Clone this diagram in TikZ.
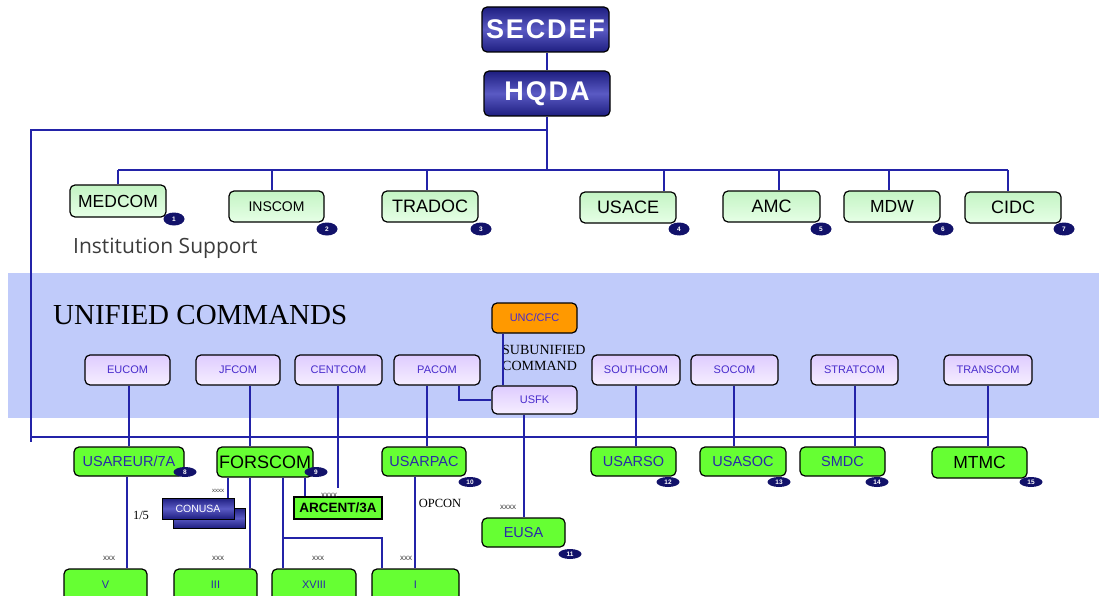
\documentclass[tikz,border=0pt]{standalone}
\usepackage{fontspec}
\setmainfont{Liberation Serif}
\setsansfont{Liberation Sans}
\newfontfamily\isfont{Open Sans}
\usetikzlibrary{shapes.geometric}
\definecolor{lineblue}{RGB}{35,35,168}
\definecolor{bandblue}{RGB}{192,203,250}
\definecolor{navy}{RGB}{18,18,106}
\definecolor{mintA}{RGB}{196,244,196}
\definecolor{mintB}{RGB}{230,255,230}
\definecolor{lavA}{RGB}{222,204,255}
\definecolor{lavB}{RGB}{246,238,255}
\definecolor{ucText}{RGB}{72,44,204}
\definecolor{gText}{RGB}{42,42,168}
\definecolor{brightgreen}{RGB}{102,255,51}
\definecolor{orangebox}{RGB}{255,153,0}
\definecolor{deepblue}{RGB}{30,30,128}
\definecolor{midblue}{RGB}{90,90,196}
\definecolor{grayText}{RGB}{60,60,60}
\newcommand\fsz[1]{\fontsize{#1}{#1}\selectfont}
\begin{document}
\begin{tikzpicture}[x=1pt,y=-1pt,
  box/.style={draw=black, line width=1.2pt, rounded corners=5pt, inner sep=0pt, font=\sffamily},
  lvlone/.style={box, top color=mintA, bottom color=mintB, text=black},
  ucbox/.style={box, top color=lavA, bottom color=lavB, text=ucText, font=\sffamily\fsz{11}},
  grnbox/.style={box, fill=brightgreen, text=gText},
  bluehead/.style={box, top color=deepblue, bottom color=deepblue, middle color=midblue, text=white,
     font=\sffamily\bfseries\fsz{27}\addfontfeature{LetterSpace=7}},
  conusabox/.style={draw=black, line width=1pt, top color=deepblue, bottom color=deepblue, middle color=midblue, text=white, inner sep=0pt, font=\sffamily\fsz{10.5}},
  badge/.style={ellipse, fill=navy, text=white, inner sep=0pt, minimum width=23pt, minimum height=10pt, font=\sffamily\bfseries\fsz{6.5}},
  badgetop/.style={badge, minimum width=21pt, minimum height=13pt},
  conn/.style={draw=lineblue, line width=1.2pt},
  tiny/.style={text=grayText, font=\sffamily\fsz{8}, inner sep=0pt},
  serifnote/.style={text=black, font=\rmfamily\fsz{12.5}, inner sep=0pt}
]
\clip (0,0) rectangle (1099,596);
\fill[white] (0,0) rectangle (1099,596);
% band
\fill[bandblue] (8,273) rectangle (1099,418);

% top
\node[bluehead, minimum width=127pt, minimum height=45pt] (secdef) at (545.5,29.5) {SECDEF};
\node[bluehead, minimum width=126pt, minimum height=45pt] (hqda) at (547,93.5) {HQDA};

% coordinates
\coordinate (jA) at (547,130);
\coordinate (jB) at (547,170);
\coordinate (leftTop) at (31,130);
\coordinate (leftBot) at (31,442);
\coordinate (busL) at (31,437);
\coordinate (busR) at (988,437);
\coordinate (busTwoL) at (118,170);
\coordinate (busTwoR) at (1008,170);

% level 1
\node[lvlone, minimum width=96pt, minimum height=32pt, font=\sffamily\fsz{17.5}] (medcom) at (118,201) {MEDCOM};
\node[lvlone, minimum width=95pt, minimum height=31pt, font=\sffamily\fsz{14}] (inscom) at (276.5,206.5) {INSCOM};
\node[lvlone, minimum width=96pt, minimum height=31pt, font=\sffamily\fsz{18}] (tradoc) at (430,206.5) {TRADOC};
\node[lvlone, minimum width=96pt, minimum height=31pt, font=\sffamily\fsz{18}] (usace) at (628,207.5) {USACE};
\node[lvlone, minimum width=97pt, minimum height=31pt, font=\sffamily\fsz{18}] (amc) at (771.5,206.5) {AMC};
\node[lvlone, minimum width=96pt, minimum height=31pt, font=\sffamily\fsz{17.5}] (mdw) at (892,206.5) {MDW};
\node[lvlone, minimum width=96pt, minimum height=31pt, font=\sffamily\fsz{18}] (cidc) at (1013,207.5) {CIDC};

\node[badgetop] (b1) at (174,219) {1};
\node[badgetop] (b2) at (327,229) {2};
\node[badgetop] (b3) at (481,229) {3};
\node[badgetop] (b4) at (679,229) {4};
\node[badgetop] (b5) at (821,229) {5};
\node[badgetop] (b6) at (943,229) {6};
\node[badgetop] (b7) at (1064,229) {7};

\node[anchor=west, inner sep=0pt, text=grayText, font=\isfont\fsz{21}] (instsup) at (73,248) {Institution Support};
\node[anchor=west, inner sep=0pt, text=black, font=\rmfamily\fsz{29}] (unified) at (53,315) {UNIFIED COMMANDS};

% unified commands
\node[ucbox, minimum width=85pt, minimum height=30pt] (eucom) at (127.5,370) {EUCOM};
\node[ucbox, minimum width=84pt, minimum height=30pt] (jfcom) at (238,370) {JFCOM};
\node[ucbox, minimum width=87pt, minimum height=30pt] (centcom) at (338.5,370) {CENTCOM};
\node[ucbox, minimum width=86pt, minimum height=30pt] (pacom) at (437,370) {PACOM};
\node[ucbox, minimum width=88pt, minimum height=30pt] (southcom) at (636,370) {SOUTHCOM};
\node[ucbox, minimum width=87pt, minimum height=30pt] (socom) at (734.5,370) {SOCOM};
\node[ucbox, minimum width=87pt, minimum height=30pt] (stratcom) at (854.5,370) {STRATCOM};
\node[ucbox, minimum width=88pt, minimum height=30pt] (transcom) at (988,370) {TRANSCOM};
\node[box, fill=orangebox, text=ucText, font=\sffamily\fsz{11}, minimum width=85pt, minimum height=30pt] (unccfc) at (534.5,318) {UNC/CFC};
\node[ucbox, minimum width=85pt, minimum height=28pt] (usfk) at (534.5,400) {USFK};
\node[anchor=west, align=left, inner sep=0pt, text=black, font=\rmfamily\fontsize{14}{16}\selectfont] (subunified) at (502,358) {SUBUNIFIED\\COMMAND};

% bottom row 1
\node[grnbox, minimum width=110pt, minimum height=29pt, font=\sffamily\fsz{14.5}] (usareur) at (129,461.5) {USAREUR/7A};
\node[grnbox, minimum width=96pt, minimum height=30pt, text=black, font=\sffamily\fsz{18}] (forscom) at (265,462) {FORSCOM};
\node[grnbox, minimum width=84pt, minimum height=29pt, font=\sffamily\fsz{14.5}] (usarpac) at (424,461.5) {USARPAC};
\node[grnbox, minimum width=85pt, minimum height=29pt, font=\sffamily\fsz{14.5}] (usarso) at (633.5,461.5) {USARSO};
\node[grnbox, minimum width=86pt, minimum height=29pt, font=\sffamily\fsz{14.5}] (usasoc) at (743,461.5) {USASOC};
\node[grnbox, minimum width=85pt, minimum height=29pt, font=\sffamily\fsz{14.5}] (smdc) at (842.5,461.5) {SMDC};
\node[grnbox, minimum width=95pt, minimum height=31pt, text=black, font=\sffamily\fsz{17.5}] (mtmc) at (979.5,462.5) {MTMC};
\node[grnbox, rounded corners=0pt, minimum width=88pt, minimum height=22pt, text=black, font=\sffamily\bfseries\fsz{13.5}] (arcent) at (338,508) {ARCENT/3A};
\node[grnbox, minimum width=83pt, minimum height=29pt, font=\sffamily\fsz{14.5}] (eusa) at (523.5,532.5) {EUSA};
\node[conusabox, minimum width=72pt, minimum height=20pt] (conusaback) at (209,518) {};
\node[conusabox, minimum width=72pt, minimum height=21pt] (conusa) at (198,508.5) {CONUSA};

\node[badge] (b8) at (185,472) {8};
\node[badge] (b9) at (316,472) {9};
\node[badge] (b10) at (470,482) {10};
\node[badge] (b11) at (570,554) {11};
\node[badge] (b12) at (668,482) {12};
\node[badge] (b13) at (779,482) {13};
\node[badge] (b14) at (877,482) {14};
\node[badge] (b15) at (1031,482) {15};

% bottom row 2
\node[grnbox, minimum width=83pt, minimum height=32pt, font=\sffamily\fsz{11}] (corpsv) at (105.5,585) {V};
\node[grnbox, minimum width=83pt, minimum height=32pt, font=\sffamily\fsz{11}] (corpsiii) at (215.5,585) {III};
\node[grnbox, minimum width=84pt, minimum height=32pt, font=\sffamily\fsz{11}] (corpsxviii) at (314,585) {XVIII};
\node[grnbox, minimum width=87pt, minimum height=32pt, font=\sffamily\fsz{11}] (corpsi) at (415.5,585) {I};

% labels
\node[tiny, font=\sffamily\fsz{6}] (lxa) at (218,491) {xxxx};
\node[tiny] (lxb) at (329,495) {xxxx};
\node[tiny] (lxc) at (508,507) {xxxx};
\node[tiny] (lxd) at (109,558) {xxx};
\node[tiny] (lxe) at (218,558) {xxx};
\node[tiny] (lxf) at (318,558) {xxx};
\node[tiny] (lxg) at (406,558) {xxx};
\node[serifnote] (onefive) at (141,515) {1/5};
\node[serifnote] (opcon) at (440,503) {OPCON};

% x positions for vertical connectors
\coordinate (xInscom) at (272,0);
\coordinate (xTradoc) at (427,0);
\coordinate (xUsace) at (664,0);
\coordinate (xAmc) at (779,0);
\coordinate (xMdw) at (889,0);
\coordinate (xCidc) at (1008,0);
\coordinate (xEucom) at (129,0);
\coordinate (xJf) at (250,0);
\coordinate (xPac) at (427,0);
\coordinate (xPacB) at (459,0);
\coordinate (xUnc) at (503,0);
\coordinate (xUsfk) at (524,0);
\coordinate (xSouth) at (636,0);
\coordinate (xSocom) at (734,0);
\coordinate (xStrat) at (855,0);
\coordinate (xTrans) at (988,0);
\coordinate (xV) at (127,0);
\coordinate (xCon) at (228,0);
\coordinate (xXviii) at (283,0);
\coordinate (xArc) at (305,0);
\coordinate (xI) at (382,0);
\coordinate (xOp) at (415,0);
\coordinate (yBr) at (0,538);
\coordinate (centEnd) at (338,488);

% connectors
\draw[conn] (secdef.south -| hqda.north) -- (hqda.north);
\draw[conn] (hqda.south) -- (jB);
\draw[conn] (jA) -- (leftTop) -- (leftBot);
\draw[conn] (busL) -- (busR);
\draw[conn] (busTwoL) -- (busTwoR);
\draw[conn] (busTwoL) -- (medcom.north);
\draw[conn] (busTwoL -| xInscom) -- (inscom.north -| xInscom);
\draw[conn] (busTwoL -| xTradoc) -- (tradoc.north -| xTradoc);
\draw[conn] (busTwoL -| xUsace) -- (usace.north -| xUsace);
\draw[conn] (busTwoL -| xAmc) -- (amc.north -| xAmc);
\draw[conn] (busTwoL -| xMdw) -- (mdw.north -| xMdw);
\draw[conn] (busTwoR) -- (cidc.north -| xCidc);

\draw[conn] (eucom.south -| xEucom) -- (usareur.north -| xEucom);
\draw[conn] (jfcom.south -| xJf) -- (forscom.north -| xJf);
\draw[conn] (centcom.south -| centEnd) -- (centEnd);
\draw[conn] (pacom.south -| xPac) -- (usarpac.north -| xPac);
\draw[conn] (pacom.south -| xPacB) |- (usfk.west);
\draw[conn] (unccfc.south -| xUnc) -- (usfk.north -| xUnc);
\draw[conn] (usfk.south -| xUsfk) -- (eusa.north -| xUsfk);
\draw[conn] (southcom.south -| xSouth) -- (usarso.north -| xSouth);
\draw[conn] (socom.south -| xSocom) -- (usasoc.north -| xSocom);
\draw[conn] (stratcom.south -| xStrat) -- (smdc.north -| xStrat);
\draw[conn] (transcom.south -| xTrans) -- (mtmc.north -| xTrans);

\draw[conn] (usareur.south -| xV) -- (corpsv.north -| xV);
\draw[conn] (forscom.south -| xCon) -- (conusa.north -| xCon);
\draw[conn] (forscom.south -| xJf) -- (corpsiii.north -| xJf);
\draw[conn] (forscom.south -| xXviii) -- (corpsxviii.north -| xXviii);
\draw[conn] (xXviii |- yBr) -| (corpsi.north -| xI);
\draw[conn] (forscom.south -| xArc) -- (arcent.north -| xArc);
\draw[conn] (usarpac.south -| xOp) -- (corpsi.north -| xOp);
\end{tikzpicture}
\end{document}
